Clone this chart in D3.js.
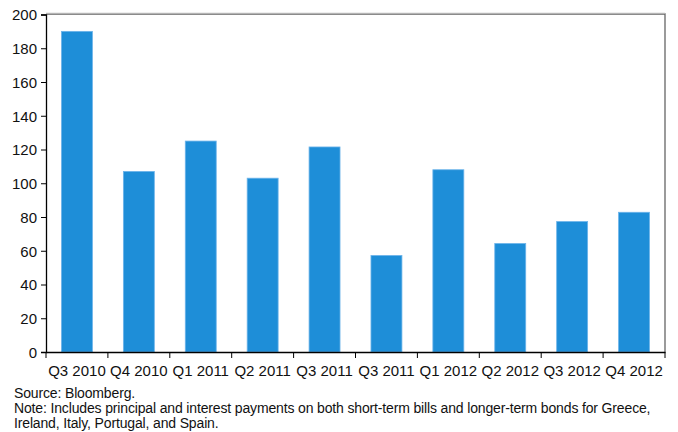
<!DOCTYPE html>
<html>
<head>
<meta charset="utf-8">
<script src="https://cdn.jsdelivr.net/npm/d3@7"></script>
<style>
  body { margin: 0; background: #fff; }
  text { font-family: "Liberation Sans", Arial, sans-serif; fill: #111; }
</style>
</head>
<body>
<script>
const quarters = ["Q3 2010", "Q4 2010", "Q1 2011", "Q2 2011", "Q3 2011", "Q3 2011 ", "Q1 2012", "Q2 2012", "Q3 2012", "Q4 2012"];
const payments = [190, 107, 125, 103, 121.5, 57.2, 108, 64.3, 77.3, 82.8];
const yTicks = [0, 20, 40, 60, 80, 100, 120, 140, 160, 180, 200];
const notes = [
  "Source: Bloomberg.",
  "Note: Includes principal and interest payments on both short-term bills and longer-term bonds for Greece,",
  "Ireland, Italy, Portugal, and Spain."
];

const W = 678, H = 432;
const margin = {top: 14.5, right: 13, bottom: 80, left: 46};
const width = W - margin.left - margin.right;
const height = H - margin.top - margin.bottom;

const svg = d3.select("body")
  .append("svg")
    .attr("width", W)
    .attr("height", H);

const g = svg.append("g")
    .attr("transform", "translate(" + margin.left + "," + margin.top + ")");

const x = d3.scaleBand()
    .domain(quarters)
    .range([0, width])
    .paddingInner(0.5)
    .paddingOuter(0.25);

const y = d3.scaleLinear()
    .domain([0, 200])
    .range([height, 0]);

// frame on top and right
g.append("path")
    .attr("d", `M0,-0.5H${width}V${height}`)
    .attr("fill", "none")
    .attr("stroke", "#666")
    .attr("stroke-width", 1.3);
g.append("line")
    .attr("x1", 0).attr("x2", width)
    .attr("y1", -1.5).attr("y2", -1.5)
    .attr("stroke", "#ddd");

g.selectAll(".bar")
  .data(payments)
  .enter().append("rect")
    .attr("class", "bar")
    .attr("x", (d, i) => x(quarters[i]))
    .attr("y", d => y(d))
    .attr("width", x.bandwidth())
    .attr("height", d => height - y(d))
    .attr("fill", "#1e8ed8")
    .attr("stroke", "#6db4ea")
    .attr("stroke-width", 0.8);

const yAxis = g.append("g")
    .call(d3.axisLeft(y).tickValues(yTicks).tickSize(5).tickPadding(4));

const step = width / quarters.length;
const xAxis = g.append("g")
    .attr("transform", `translate(0,${height})`)
    .call(d3.axisBottom(x).tickSize(0).tickPadding(13));

xAxis.selectAll(".boundary")
  .data(d3.range(quarters.length + 1))
  .enter().append("line")
    .attr("class", "boundary")
    .attr("x1", i => i * step).attr("x2", i => i * step)
    .attr("y1", 0).attr("y2", 6)
    .attr("stroke", "#000");

[yAxis, xAxis].forEach(a => {
  a.select(".domain").attr("stroke", "#000").attr("stroke-width", 1.3);
  a.selectAll(".tick line").attr("stroke", "#000");
  a.selectAll("text").style("font-size", "15px").attr("fill", "#111");
});
yAxis.selectAll(".tick text").attr("dy", "0.36em");
xAxis.selectAll(".tick text").text(d => d.trim());

svg.selectAll(".note")
  .data(notes)
  .enter().append("text")
    .attr("class", "note")
    .attr("x", 14)
    .attr("y", (d, i) => 398 + i * 15)
    .style("font-size", "14px")
    .style("letter-spacing", "-0.15px")
    .text(d => d);
</script>
</body>
</html>
